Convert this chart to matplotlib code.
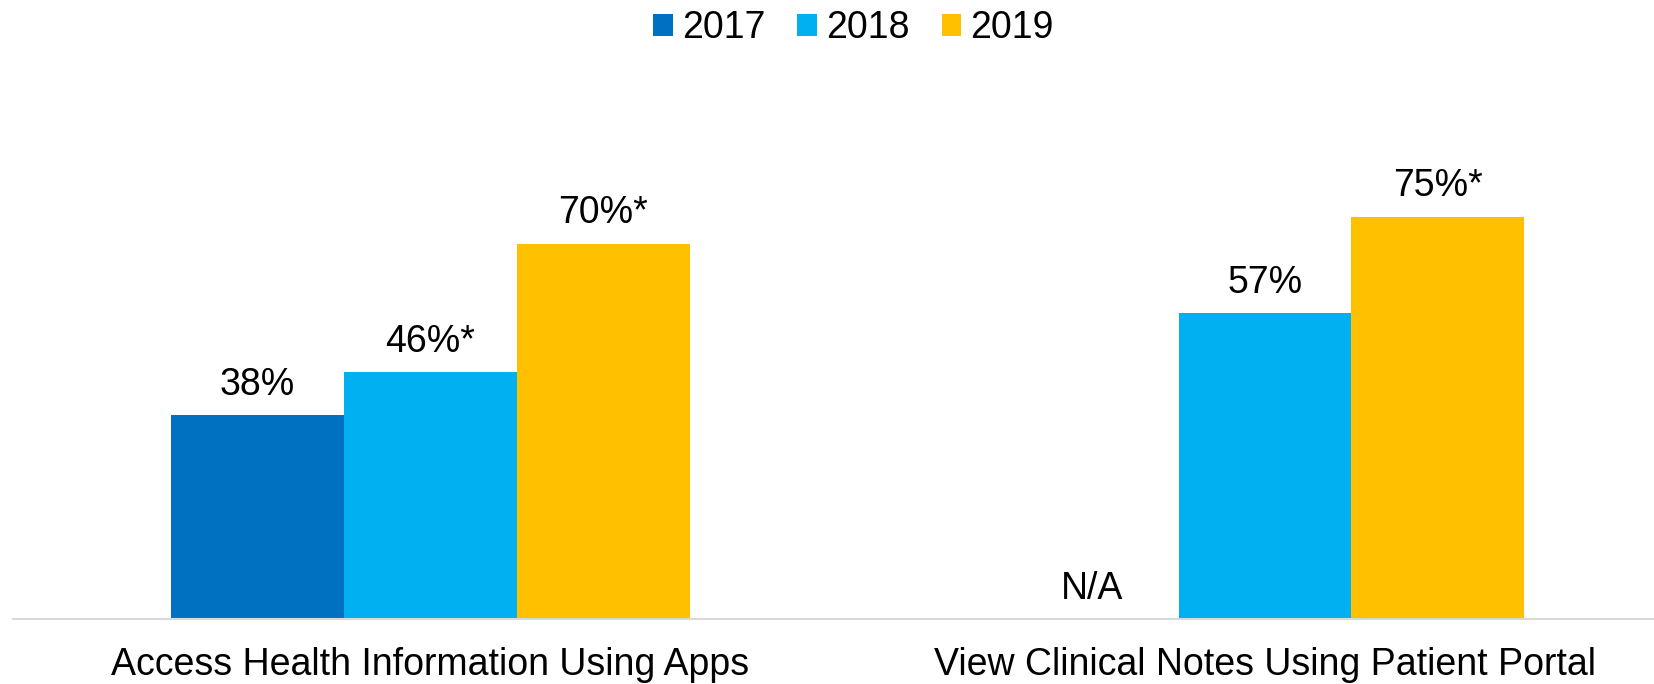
import numpy as np
import matplotlib.pyplot as plt

plt.rcParams['font.family'] = ['Liberation Sans', 'DejaVu Sans']

# data
categories = ["Access Health Information Using Apps", "View Clinical Notes Using Patient Portal"]
years = ["2017", "2018", "2019"]
values_2017 = [38, np.nan]
values_2018 = [46, 57]
values_2019 = [70, 75]
labels_2017 = ["38%", "N/A"]
labels_2018 = ["46%*", "57%"]
labels_2019 = ["70%*", "75%*"]
colors = ["#0070C0", "#00B0F0", "#FFC000"]

series = [values_2017, values_2018, values_2019]
series_labels = [labels_2017, labels_2018, labels_2019]

fig = plt.figure(figsize=(16.54, 6.84), dpi=100)
ax = fig.add_axes([0.0079, 0.095, 0.9921, 0.784])

x = np.arange(len(categories))
width = 0.207
for i, (vals, labs) in enumerate(zip(series, series_labels)):
    pos = x + (i - 1) * width
    ax.bar(pos, np.nan_to_num(vals), width, color=colors[i], label=years[i])
    for p, v, lab in zip(pos, vals, labs):
        h = 0 if np.isnan(v) else v
        ax.annotate(lab, (p, h), xytext=(0, 9), textcoords="offset points",
                    ha="center", va="bottom", fontsize=27)

ax.set_xlim(-0.5, 1.466)
ax.set_ylim(0, 100)
ax.set_yticks([])
ax.set_xticks(x)
ax.set_xticklabels(categories, fontsize=27)
ax.tick_params(axis="x", length=0, pad=20)
for s in ["top", "right", "left"]:
    ax.spines[s].set_visible(False)
ax.spines["bottom"].set_color("#d9d9d9")
ax.spines["bottom"].set_linewidth(1.5)

fig.legend(loc="upper center", bbox_to_anchor=(0.516, 1.01), ncol=3, frameon=False,
           fontsize=27, handlelength=0.52, handleheight=0.52, handletextpad=0.25,
           columnspacing=0.85, borderaxespad=0.05)

fig.savefig("out.png", dpi=100)
